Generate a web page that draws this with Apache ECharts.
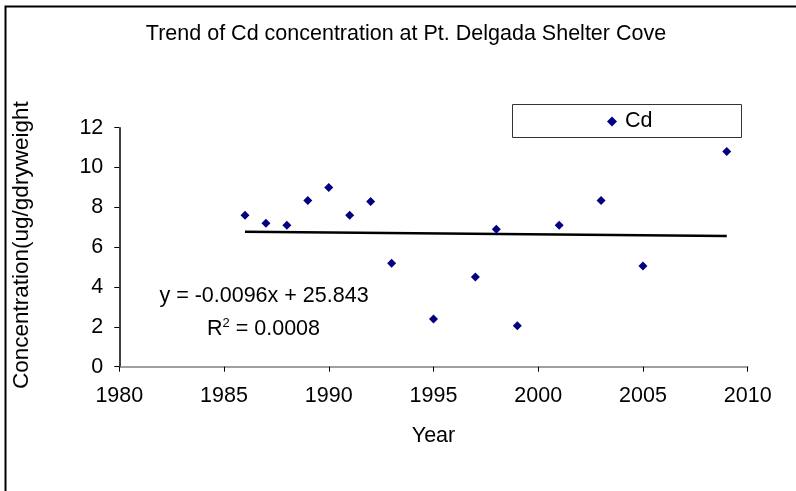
<!DOCTYPE html>
<html>
<head>
<meta charset="utf-8">
<script src="https://cdn.jsdelivr.net/npm/echarts@6/dist/echarts.min.js"></script>
<style>
  html, body { margin: 0; padding: 0; background: #fff; }
  #chart { width: 796px; height: 491px; }
</style>
</head>
<body>
<div id="chart"></div>
<script>
// Cd concentration by sampling year
const years = [1986, 1987, 1988, 1989, 1990, 1991, 1992, 1993, 1995, 1997, 1998, 1999, 2001, 2003, 2005, 2009];
const cdValues = [7.6, 7.2, 7.1, 8.35, 9.0, 7.6, 8.3, 5.2, 2.4, 4.5, 6.9, 2.05, 7.1, 8.35, 5.05, 10.8];

// Linear trend line coefficients
const slope = -0.0096;
const intercept = 25.843;
const rSquared = '0.0008';

const xTicks = [1980, 1985, 1990, 1995, 2000, 2005, 2010];
const yTicks = [0, 2, 4, 6, 8, 10, 12];

const points = years.map((y, i) => [y, cdValues[i]]);
const trendStart = years[0];
const trendEnd = years[years.length - 1];
const trend = [trendStart, trendEnd].map(x => [x, slope * x + intercept]);

const font = 'Arial, "Liberation Sans", sans-serif';
const fs = 21.5;
const chart = echarts.init(document.getElementById('chart'), null, { renderer: 'canvas' });

chart.setOption({
  animation: false,
  backgroundColor: '#fff',
  title: {
    text: 'Trend of Cd concentration at Pt. Delgada Shelter Cove',
    left: 406,
    top: 23,
    padding: 0,
    textAlign: 'center',
    textStyle: { fontFamily: font, fontSize: fs, fontWeight: 'normal', color: '#000' }
  },
  grid: { left: 119.3, right: 48.3, top: 127.7, bottom: 124.3, containLabel: false },
  legend: {
    data: [{ name: 'Cd', icon: 'diamond' }],
    left: 607,
    top: 110.5,
    itemWidth: 10,
    itemHeight: 10,
    itemGap: 4,
    padding: 0,
    textStyle: { fontFamily: font, fontSize: fs, color: '#000', padding: [0, 0, 0, 3] }
  },
  xAxis: {
    type: 'value',
    min: xTicks[0],
    max: xTicks[xTicks.length - 1],
    interval: 5,
    name: 'Year',
    nameLocation: 'middle',
    nameGap: 58,
    nameTextStyle: { fontFamily: font, fontSize: fs, color: '#000' },
    splitLine: { show: false },
    axisLine: { onZero: false, lineStyle: { color: '#808080', width: 1.5 } },
    axisTick: { inside: false, length: 5, lineStyle: { color: '#000' } },
    axisLabel: { fontFamily: font, fontSize: fs, color: '#000', margin: 18, formatter: v => String(v) }
  },
  yAxis: {
    type: 'value',
    min: yTicks[0],
    max: yTicks[yTicks.length - 1],
    interval: 2,
    splitLine: { show: false },
    axisLine: { show: true, lineStyle: { color: '#000', width: 1.5 } },
    axisTick: { show: true, inside: false, length: 5, lineStyle: { color: '#000' } },
    axisLabel: { fontFamily: font, fontSize: fs, color: '#000', margin: 16 }
  },
  series: [
    {
      name: 'Cd',
      type: 'scatter',
      symbol: 'diamond',
      symbolSize: [9, 9],
      itemStyle: { color: '#000080', opacity: 1 },
      data: points,
      z: 3
    },
    {
      name: 'Linear (Cd)',
      type: 'line',
      data: trend,
      showSymbol: false,
      symbol: 'none',
      lineStyle: { color: '#000', width: 2.5 },
      z: 2
    }
  ],
  graphic: [
    // outer frame (top and left edges)
    {
      type: 'polyline',
      shape: { points: [[5.5, 491], [5.5, 6.5], [796, 6.5]] },
      style: { stroke: '#000', lineWidth: 2, fill: null },
      silent: true
    },
    // legend box
    {
      type: 'rect',
      shape: { x: 512.5, y: 104.5, width: 229, height: 33 },
      style: { stroke: '#333', lineWidth: 1, fill: '#fff' },
      z: -1,
      silent: true
    },
    // y axis title
    {
      type: 'text',
      x: 22,
      y: 389,
      rotation: Math.PI / 2,
      style: {
        text: 'Concentration(ug/gdryweight',
        font: '22.5px ' + font,
        fill: '#000',
        align: 'left',
        verticalAlign: 'middle'
      }
    },
    // trend equation
    {
      type: 'text',
      x: 264,
      y: 296,
      style: {
        text: 'y = ' + slope.toFixed(4) + 'x + ' + intercept.toFixed(3),
        font: fs + 'px ' + font,
        fill: '#000',
        align: 'center',
        verticalAlign: 'middle'
      }
    },
    {
      type: 'text',
      x: 207,
      y: 329,
      style: {
        rich: {
          base: { font: fs + 'px ' + font, fill: '#000' },
          sup: { font: '13px ' + font, fill: '#000', verticalAlign: 'top', padding: [0, 0, 12, 0] }
        },
        text: '{base|R}{sup|2}{base| = ' + rSquared + '}',
        align: 'left',
        verticalAlign: 'middle'
      }
    }
  ]
});
</script>
</body>
</html>
